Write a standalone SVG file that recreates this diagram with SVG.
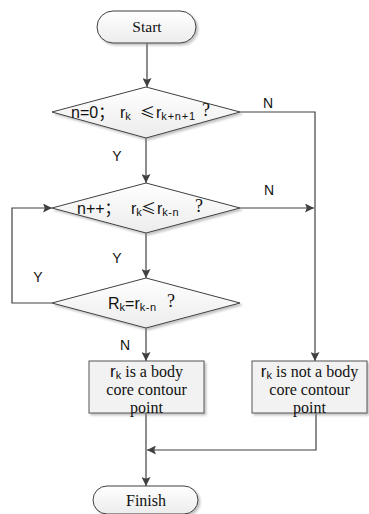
<svg xmlns="http://www.w3.org/2000/svg" width="369" height="514" viewBox="0 0 369 514">
<defs>
<linearGradient id="g" x1="0" y1="0" x2="0" y2="1">
<stop offset="0" stop-color="#ffffff"/>
<stop offset="1" stop-color="#ececec"/>
</linearGradient>
<filter id="sh" x="-10%" y="-10%" width="130%" height="140%">
<feDropShadow dx="2" dy="2" stdDeviation="1.2" flood-color="#888" flood-opacity="0.5"/>
</filter>
<marker id="ah" viewBox="0 0 10 10" refX="10" refY="5" markerWidth="9" markerHeight="9" markerUnits="userSpaceOnUse" orient="auto">
<path d="M0,0 L10,5 L0,10 L2,5 Z" fill="#404040"/>
</marker>
</defs>
<style>
.shape{fill:url(#g);stroke:#404040;stroke-width:1;filter:url(#sh)}
.box{fill:#f2f2f2;stroke:#555;stroke-width:1;filter:url(#sh)}
.c{fill:none;stroke:#404040;stroke-width:1.2;marker-end:url(#ah)}
.sans{font-family:"Liberation Sans",Arial,"Noto Sans CJK SC",sans-serif;fill:#111}
.serif{font-family:"Liberation Serif","Times New Roman",serif;fill:#111}
.cjk{font-family:"Noto Sans CJK SC",sans-serif}
.lbl{font-family:"Liberation Sans",Arial,sans-serif;font-size:14px;fill:#111;text-anchor:middle}
</style>

<g id="connectors">
<path class="c" d="M147,43 L147,87"/>
<path class="c" d="M146,138 L146,183"/>
<path class="c" d="M240,112 L315,112 L315,361"/>
<path class="c" d="M240,208 L314,208"/>
<path class="c" d="M146,233 L146,278"/>
<path class="c" d="M52,303 L12,303 L12,208 L52,208"/>
<path class="c" d="M146,328 L146,361"/>
<path class="c" d="M146,413 L146,486"/>
<path class="c" d="M316,413 L316,450 L147,450"/>
<text class="lbl" x="117" y="161">Y</text>
<text class="lbl" x="268" y="108">N</text>
<text class="lbl" x="269" y="195">N</text>
<text class="lbl" x="117" y="263">Y</text>
<text class="lbl" x="38" y="282">Y</text>
<text class="lbl" x="125" y="350">N</text>
</g>

<g id="start">
<rect class="shape" x="97" y="11" width="99" height="32" rx="16" ry="16"/>
<text class="serif" x="147" y="32" font-size="15.5" text-anchor="middle">Start</text>
</g>

<g id="d1">
<polygon class="shape" points="146,87 240,112 146,138 52,112"/>
<text class="sans" font-size="16" y="118"><tspan x="71">n=0</tspan><tspan class="cjk">；</tspan><tspan x="120">r</tspan><tspan font-size="11" dy="2">k</tspan><tspan class="cjk" x="140" dy="-2" font-size="15">≤</tspan><tspan x="156">r</tspan><tspan font-size="11" dy="2" letter-spacing="0.8">k+n+1</tspan><tspan class="serif" x="202" dy="-4" font-size="18">?</tspan></text>
</g>

<g id="d2">
<polygon class="shape" points="146,183 240,208 146,233 52,208"/>
<text class="sans" font-size="16" y="214"><tspan x="77">n++</tspan><tspan class="cjk">；</tspan><tspan x="131">r</tspan><tspan font-size="11" dy="2">k</tspan><tspan class="cjk" x="141" dy="-2" font-size="15">≤</tspan><tspan x="157">r</tspan><tspan font-size="11" dy="2" letter-spacing="0.5">k-n</tspan><tspan class="serif" x="195" dy="-4" font-size="18">?</tspan></text>
</g>

<g id="d3">
<polygon class="shape" points="146,278 240,303 146,328 52,303"/>
<text class="sans" font-size="16" y="309"><tspan x="108">R</tspan><tspan font-size="11" dy="2">k</tspan><tspan dy="-2">=r</tspan><tspan font-size="11" dy="2" letter-spacing="0.5">k-n</tspan><tspan class="serif" x="167" dy="-4" font-size="18">?</tspan></text>
</g>

<g id="box1">
<rect class="box" x="89" y="361" width="115" height="52"/>
<text class="serif" font-size="16" text-anchor="middle"><tspan x="146.5" y="377"><tspan class="sans" font-size="17">r</tspan><tspan class="sans" font-size="11" dy="2">k</tspan><tspan dy="-2"> is a body</tspan></tspan><tspan x="146.5" y="395">core contour</tspan><tspan x="146.5" y="413">point</tspan></text>
</g>

<g id="box2">
<rect class="box" x="252" y="361" width="115" height="52"/>
<text class="serif" font-size="16" text-anchor="middle"><tspan x="309.5" y="377"><tspan class="sans" font-size="17">r</tspan><tspan class="sans" font-size="11" dy="2">k</tspan><tspan dy="-2"> is not a body</tspan></tspan><tspan x="309.5" y="395">core contour</tspan><tspan x="309.5" y="413">point</tspan></text>
</g>

<g id="finish">
<rect class="shape" x="93" y="486" width="105" height="28" rx="14" ry="14"/>
<text class="serif" x="146" y="506" font-size="16" text-anchor="middle">Finish</text>
</g>
</svg>
